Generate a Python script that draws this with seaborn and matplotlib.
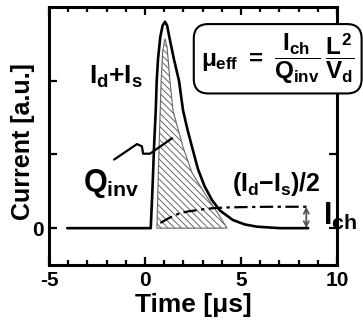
import pandas as pd
import seaborn as sns
import matplotlib.pyplot as plt
from matplotlib.ticker import MultipleLocator

# Transient current I_d + I_s
t_sum = [-4.05, 0.30, 0.40, 0.47, 0.56, 0.61, 0.68, 0.80, 0.92, 1.04, 1.15, 1.30,
         1.50, 1.77, 1.98, 2.20, 2.45, 2.76, 3.10, 3.49, 3.90, 4.58, 5.20, 5.83, 7.00, 8.50]
i_sum = [0.0, 0.0, 0.60, 1.10, 1.60, 2.00, 2.30, 2.60, 2.75, 2.80, 2.75, 2.55,
         2.30, 2.00, 1.60, 1.35, 1.10, 0.80, 0.57, 0.38, 0.24, 0.11, 0.05, 0.02, 0.0, 0.0]

# Hatched area Q_inv (outline)
q_t = [0.62, 0.70, 0.78, 0.84, 0.92, 1.04, 1.15, 1.30, 1.46, 1.98, 2.45, 3.33, 3.80, 4.27]
q_i = [0.0, 0.80, 1.50, 2.00, 2.40, 2.57, 2.45, 2.00, 1.59, 1.10, 0.75, 0.38, 0.20, 0.0]

# (I_d - I_s)/2
t_half = [0.8, 1.0, 1.2, 1.5, 1.8, 2.2, 2.6, 3.0, 3.5, 4.2, 5.0, 6.5, 8.5]
i_half = [0.07, 0.10, 0.13, 0.17, 0.20, 0.225, 0.24, 0.255, 0.27, 0.28, 0.285, 0.29, 0.29]

# squiggle pointing from the Q_inv label into the hatched area
squig_x = [-1.61, -0.42, -0.16, -0.10, 0.26, 1.41]
squig_y = [0.93, 1.14, 1.11, 1.01, 1.01, 1.22]

x_ticks = [-5, 0, 5, 10]
y_ticks = [0, 1, 2]
y_tick_labels = ["0", "", ""]

sns.set_theme(style="ticks")
plt.rcParams["font.family"] = ["Liberation Sans", "DejaVu Sans"]
plt.rcParams["font.weight"] = "bold"
plt.rcParams["mathtext.fontset"] = "custom"
plt.rcParams["mathtext.rm"] = "Liberation Sans:bold"
plt.rcParams["mathtext.it"] = "Liberation Sans:bold"
plt.rcParams["mathtext.bf"] = "Liberation Sans:bold"
plt.rcParams["mathtext.sf"] = "Liberation Sans:bold"
plt.rcParams["axes.unicode_minus"] = False
for key in ["text.color", "axes.labelcolor", "xtick.color", "ytick.color", "axes.edgecolor"]:
    plt.rcParams[key] = "black"
plt.rcParams["hatch.color"] = "#555555"
plt.rcParams["hatch.linewidth"] = 0.7

df_sum = pd.DataFrame({"t": t_sum, "i": i_sum})
df_half = pd.DataFrame({"t": t_half, "i": i_half})

fig = plt.figure(figsize=(3.63, 3.32), dpi=100)
ax = fig.add_axes([49 / 363, 1 - 265 / 332, 288 / 363, 258 / 332])

ax.fill(q_t, q_i, facecolor="white", edgecolor="#666666", hatch="\\\\\\\\\\", lw=0.8, zorder=1)
sns.lineplot(data=df_sum, x="t", y="i", ax=ax, color="black", lw=1.9, sort=False, zorder=3)
sns.lineplot(data=df_half, x="t", y="i", ax=ax, color="black", lw=1.6, sort=False,
             linestyle=(0, (6, 2, 1.5, 2)), zorder=3)
ax.plot(squig_x, squig_y, color="black", lw=1.6, zorder=4)

ax.annotate("", xy=(8.4, 0.0), xytext=(8.4, 0.29),
            arrowprops=dict(arrowstyle="<->", color="#555555", lw=1.3,
                            shrinkA=0, shrinkB=0, mutation_scale=9))

ax.text(-1.5, 1.96, r"$I_d{+}I_s$", fontsize=19, ha="center", va="baseline")
ax.text(-1.75, 0.51, r"$Q_{inv}$", fontsize=22, ha="center", va="baseline")
ax.text(6.85, 0.51, r"$(I_d{-}I_s)/2$", fontsize=18, ha="center", va="baseline")
ax.text(9.27, 0.04, r"$I_{ch}$", fontsize=22, ha="left", va="baseline", clip_on=False)

fig.text(0.765, 0.823, r"$\mu_{eff}\ =\ \dfrac{I_{ch}}{Q_{inv}}\,\dfrac{L^2}{V_d}$",
         fontsize=17.5, ha="center", va="center",
         bbox=dict(boxstyle="round,pad=0.3,rounding_size=0.6", fc="white", ec="black", lw=1.5))

ax.set_xlim(-5, 10)
ax.set_ylim(-0.5, 3.0)
ax.set_xticks(x_ticks)
ax.set_xticklabels([str(v) for v in x_ticks])
ax.xaxis.set_minor_locator(MultipleLocator(1))
ax.set_yticks(y_ticks)
ax.set_yticklabels(y_tick_labels)
ax.tick_params(which="both", direction="in", top=True, right=True, width=1.6,
               labelsize=15, pad=4)
ax.tick_params(which="major", length=6)
ax.tick_params(which="minor", length=3.5)
for s in ax.spines.values():
    s.set_linewidth(2.2)

ax.set_xlabel("Time [μs]", fontsize=19, fontweight="bold", va="top")
ax.set_ylabel("Current [a.u.]", fontsize=18, fontweight="bold")
ax.xaxis.set_label_coords(0.503, -0.11)
ax.yaxis.set_label_coords(-0.05, 0.48)

fig.savefig("out.png", dpi=100)
